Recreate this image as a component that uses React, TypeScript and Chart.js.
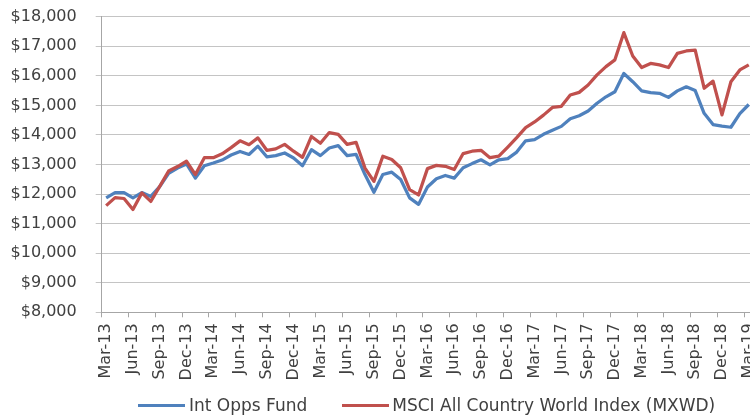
import React, { useEffect, useRef } from "react";
import { Chart, registerables } from "chart.js";

Chart.register(...registerables);

// Tick labels every 3 months, starting Mar-13
const TICK_LABELS = [
  "Mar-13", "Jun-13", "Sep-13", "Dec-13",
  "Mar-14", "Jun-14", "Sep-14", "Dec-14",
  "Mar-15", "Jun-15", "Sep-15", "Dec-15",
  "Mar-16", "Jun-16", "Sep-16", "Dec-16",
  "Mar-17", "Jun-17", "Sep-17", "Dec-17",
  "Mar-18", "Jun-18", "Sep-18", "Dec-18",
  "Mar-19",
];

const SERIES_NAMES = ["Int Opps Fund", "MSCI All Country World Index (MXWD)"];
const SERIES_COLORS = ["#4F81BD", "#C0504D"];

// Monthly values, Mar-13 .. Mar-19
const FUND = [
  11870, 12050, 12050, 11870, 12050, 11920, 12250, 12700, 12880, 13020,
  12540, 12960, 13050, 13150, 13320, 13440, 13340, 13620, 13260, 13300,
  13390, 13220, 12960, 13500, 13300, 13560, 13640, 13300, 13340, 12660,
  12060, 12660, 12740, 12490, 11870, 11650, 12240, 12520, 12630, 12540,
  12890, 13030, 13160, 12990, 13160, 13200, 13420, 13800, 13840, 14020,
  14160, 14290, 14550, 14650, 14810, 15070, 15290, 15460, 16080, 15800,
  15490, 15430, 15410, 15270, 15490, 15630, 15500, 14730, 14350, 14300,
  14260, 14720, 15030,
];

const MSCI = [
  11610, 11880, 11850, 11480, 12040, 11750, 12260, 12780, 12930, 13110,
  12660, 13230, 13230, 13360, 13570, 13800, 13670, 13900, 13480, 13530,
  13680, 13450, 13240, 13950, 13720, 14080, 14020, 13680, 13750, 12880,
  12430, 13280, 13170, 12890, 12150, 11970, 12860, 12970, 12940, 12830,
  13370, 13450, 13480, 13230, 13280, 13590, 13910, 14250, 14440, 14670,
  14930, 14970, 15350, 15440, 15690, 16030, 16310, 16540, 17460, 16670,
  16280, 16420, 16370, 16280, 16760, 16840, 16870, 15580, 15820, 14680,
  15800, 16200, 16370,
];

const Y_MIN = 8000;
const Y_MAX = 18000;
const Y_STEP = 1000;
const MONTHS_PER_TICK = 3;

const CANVAS_W = 800;
const CANVAS_H = 417;
const FONT = "'DejaVu Sans', sans-serif";
const TEXT_COLOR = "#404040";

export default function App() {
  const ref = useRef<HTMLCanvasElement>(null);

  useEffect(() => {
    const canvas = ref.current;
    if (!canvas) return;
    const toPoints = (arr: number[]) => arr.map((v, i) => ({ x: i + 0.5, y: v }));
    const chart = new Chart(canvas, {
      type: "line",
      data: {
        datasets: [
          {
            label: SERIES_NAMES[0],
            data: toPoints(FUND),
            borderColor: SERIES_COLORS[0],
            backgroundColor: SERIES_COLORS[0],
            borderWidth: 3.25,
            pointRadius: 0,
            tension: 0,
            borderJoinStyle: "round",
            order: 1,
          },
          {
            label: SERIES_NAMES[1],
            data: toPoints(MSCI),
            borderColor: SERIES_COLORS[1],
            backgroundColor: SERIES_COLORS[1],
            borderWidth: 3.25,
            pointRadius: 0,
            tension: 0,
            borderJoinStyle: "round",
            order: 0,
          },
        ],
      },
      options: {
        responsive: false,
        animation: false,
        layout: { padding: { top: 16.7, left: 0, right: 20, bottom: 0 } },
        plugins: { legend: { display: false }, tooltip: { enabled: false } },
        scales: {
          x: {
            type: "linear",
            min: 0,
            max: 76,
            afterFit: (s: any) => {
              s.height = CANVAS_H - 312.3;
              s.paddingLeft = 0;
              s.paddingRight = 0;
            },
            grid: { drawOnChartArea: false, drawTicks: true, tickLength: 5, color: "#a6a6a6" },
            border: { color: "#a6a6a6" },
            ticks: {
              stepSize: MONTHS_PER_TICK,
              autoSkip: false,
              maxRotation: 90,
              minRotation: 90,
              labelOffset: 4.5,
              padding: 6,
              color: TEXT_COLOR,
              font: { family: FONT, size: 16 },
              callback: (v: any) => {
                const k = Math.round(Number(v) / MONTHS_PER_TICK);
                if (Math.abs(Number(v) - k * MONTHS_PER_TICK) > 1e-6) return "";
                return TICK_LABELS[k] ?? "";
              },
            },
          },
          y: {
            min: Y_MIN,
            max: Y_MAX,
            afterFit: (s: any) => {
              s.width = 101.7;
              s.paddingTop = 0;
              s.paddingBottom = 0;
            },
            grid: { color: "#c4c4c4", tickLength: 6, lineWidth: 1 },
            border: { color: "#a6a6a6" },
            ticks: {
              stepSize: Y_STEP,
              padding: 19,
              color: TEXT_COLOR,
              font: { family: FONT, size: 16 },
              callback: (v: any) => "$" + Number(v).toLocaleString("en-US"),
            },
          },
        },
      },
    });
    return () => chart.destroy();
  }, []);

  const legendLine = (color: string) => (
    <span style={{ display: "inline-block", width: 47, height: 3, background: color }} />
  );

  return (
    <div
      style={{
        position: "fixed",
        left: 0,
        top: 0,
        width: 750,
        height: 417,
        overflow: "hidden",
        background: "#fff",
      }}
    >
      <canvas
        ref={ref}
        width={CANVAS_W}
        height={CANVAS_H}
        style={{ position: "absolute", left: 0, top: 0, width: CANVAS_W, height: CANVAS_H }}
      />
      <div
        style={{
          position: "absolute",
          left: 138,
          top: 394,
          height: 22,
          display: "flex",
          alignItems: "center",
          fontFamily: FONT,
          fontSize: 17,
          color: TEXT_COLOR,
          whiteSpace: "nowrap",
        }}
      >
        {legendLine(SERIES_COLORS[0])}
        <span style={{ marginLeft: 4 }}>{SERIES_NAMES[0]}</span>
        <span style={{ marginLeft: 35 }} />
        {legendLine(SERIES_COLORS[1])}
        <span style={{ marginLeft: 3 }}>{SERIES_NAMES[1]}</span>
      </div>
    </div>
  );
}
